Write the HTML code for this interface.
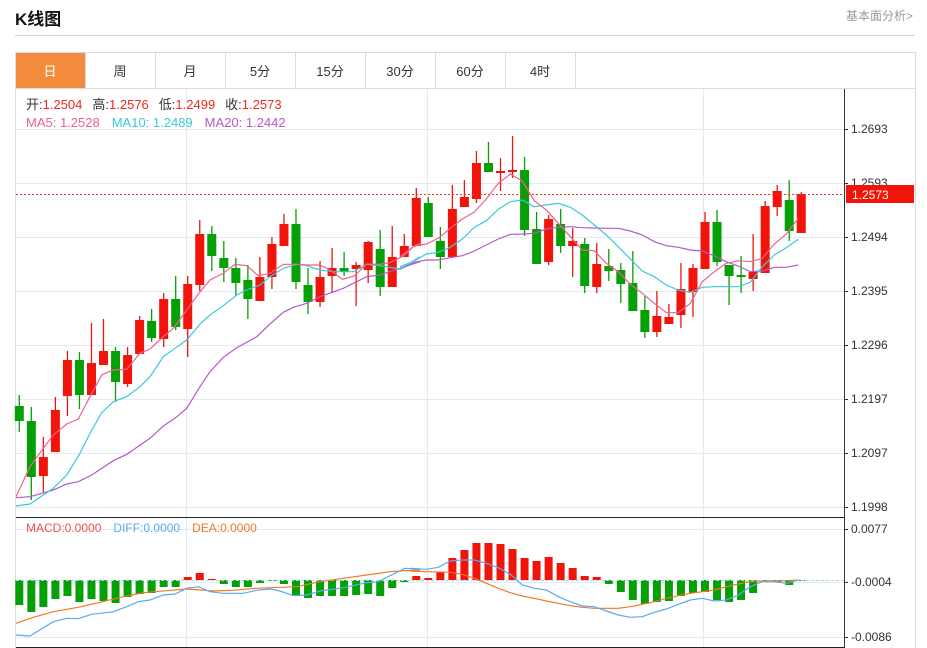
<!DOCTYPE html><html><head><meta charset="utf-8"><style>
body{margin:0;width:927px;height:648px;background:#fff;font-family:"Liberation Sans","Noto Sans CJK SC",sans-serif;position:relative;overflow:hidden}
.t{position:absolute;white-space:nowrap}
</style></head><body>
<div class="t" style="left:15px;top:5px;font-size:17px;font-weight:bold;color:#111">K线图</div>
<div class="t" style="right:14px;top:7px;font-size:12px;color:#999">基本面分析&gt;</div>
<div style="position:absolute;left:15px;top:35px;width:900px;height:1px;background:#d6d6d6"></div>
<svg id="s" width="927" height="648" style="position:absolute;left:0;top:0" font-family="Liberation Sans, Noto Sans CJK SC, sans-serif"></svg>
<script>
var s='';
function L(x1,y1,x2,y2,c,w,d){s+='<line x1="'+x1+'" y1="'+y1+'" x2="'+x2+'" y2="'+y2+'" stroke="'+c+'" stroke-width="'+(w||1)+'"'+(d?' stroke-dasharray="'+d+'"':'')+'/>';}
function R(x,y,w,h,c){s+='<rect x="'+x+'" y="'+y+'" width="'+w+'" height="'+h+'" fill="'+c+'"/>';}
function T(x,y,t,c,sz,a){s+='<text x="'+x+'" y="'+y+'" fill="'+c+'" font-size="'+(sz||12)+'"'+(a?' text-anchor="'+a+'"':'')+'>'+t+'</text>';}
// frame
s+='<rect x="15.5" y="52.5" width="900" height="600" fill="none" stroke="#dcdcdc"/>';
L(15,88.5,915,88.5,'#dcdcdc');
var tabs=['日','周','月','5分','15分','30分','60分','4时'];
R(16,53,70,35,'#F28C3C');
for(var i=0;i<8;i++){var x=15+i*70;L(x+70.5,53,x+70.5,88,'#dcdcdc');T(x+35,76,tabs[i],i?'#333':'#fff',13,'middle');}
// grid
[129,183,237,291,345,399,453,507].forEach(function(y){L(16,y+.5,844,y+.5,'#e3eaf0');});
[186,427,703].forEach(function(x){L(x+.5,89,x+.5,647,'#e3eaf0');});
[529,582,637].forEach(function(y){L(16,y+.5,844,y+.5,'#e3eaf0');});
L(844.5,89,844.5,648,'#333');L(16,517.5,844,517.5,'#222');L(16,647.5,844,647.5,'#222');
var lab=['1.2693','1.2593','1.2494','1.2395','1.2296','1.2197','1.2097','1.1998'];
[129,183,237,291,345,399,453,507].forEach(function(y,i){L(844,y+.5,848,y+.5,'#333');T(851,y+4,lab[i],'#333',12);});
[[529,'0.0077'],[582,'-0.0004'],[637,'-0.0086']].forEach(function(a){L(844,a[0]+.5,848,a[0]+.5,'#333');T(851,a[0]+4,a[1],'#333',12);});
// info
s+='<text x="26" y="109" font-size="13"><tspan fill="#333">开:</tspan><tspan fill="#f0281e">1.2504</tspan><tspan fill="#333" dx="10">高:</tspan><tspan fill="#f0281e">1.2576</tspan><tspan fill="#333" dx="10">低:</tspan><tspan fill="#f0281e">1.2499</tspan><tspan fill="#333" dx="10">收:</tspan><tspan fill="#f0281e">1.2573</tspan></text>';
s+='<text x="26" y="127" font-size="13"><tspan fill="#f06090">MA5: 1.2528</tspan><tspan fill="#3cc8dc" dx="12">MA10: 1.2489</tspan><tspan fill="#b45ac8" dx="12">MA20: 1.2442</tspan></text>';
s+='<text x="26" y="532" font-size="12"><tspan fill="#f0504a">MACD:0.0000</tspan><tspan fill="#5aaaf0" dx="12">DIFF:0.0000</tspan><tspan fill="#f07828" dx="12">DEA:0.0000</tspan></text>';
// candles: [type, bodyTop, bodyBot, wickTop, wickBot]
var C=[['g',406,421,395,432],['g',421,477,407,500],['r',457,476,437,492],['r',410,452,397,452],['r',360,396,351,416],['g',360,395,352,409],['r',363,395,323,395],['r',351,365,319,365],['g',351,382,347,402],['r',355,384,347,387],['r',320,354,316,354],['g',321,338,309,342],['r',299,339,293,347],['g',299,327,276,330],['r',284,329,276,357],['r',234,285,220,291],['g',234,256,226,271],['g',258,268,241,282],['g',268,283,258,295],['g',280,299,265,319],['r',277,301,257,301],['r',244,277,237,289],['r',224,246,214,246],['g',224,282,209,289],['g',285,302,268,314],['r',277,302,261,307],['r',268,276,248,293],['g',268,272,252,276],['r',265,269,262,306],['r',242,270,241,283],['g',249,287,230,296],['r',257,287,226,287],['r',246,257,234,257],['r',198,246,188,246],
['g',203,237,197,237],['g',241,257,227,269],['r',209,257,185,257],['r',197,207,180,207],['r',163,199,151,203],['g',163,172,142,172],['r',171,173,158,191],['r',170,172,136,178],['g',170,230,157,236],['g',229,264,212,264],['r',219,262,215,265],['g',224,246,209,253],['r',241,246,228,277],['g',244,286,238,293],['r',264,287,243,293],['g',266,271,249,281],['g',270,284,263,303],['g',283,311,251,311],['g',310,332,296,338],['r',316,332,291,337],['r',317,324,304,324],['r',289,315,263,328],['r',268,292,264,317],['r',222,269,212,269],['g',222,262,210,266],['g',265,276,265,305],['g',275,277,256,293],['r',272,279,234,291],['r',206,273,201,273],['r',191,207,185,216],['g',200,231,180,241],['r',194,233,192,233]];
function cx(i){return 19.3+i*12.03;}
C.forEach(function(c,i){var x=cx(i),col=c[0]=='r'?'#f0140a':'#05a005';L(x,c[3],x,c[4],col,1.3);R(x-4.5,c[1],9,Math.max(c[2]-c[1],2),col);});
L(16,194.5,844,194.5,'#f03030',1,'2,2');
R(846,185,68,18,'#f0140a');T(852,199,'1.2573','#fff',12);
function P(pts,ox,sc,oy,col,w){var d='';pts.forEach(function(p,i){d+=(i?'L':'M')+(ox+p[0]/3).toFixed(1)+' '+(oy+p[1]/3).toFixed(1);});s+='<path d="'+d+'" fill="none" stroke="'+col+'" stroke-width="'+(w||1.2)+'"/>';}
P([[48,1133],[90,1130],[160,1110],[200,1092],[235,1085],[275,1065],[340,1022],[380,1003],[450,955],[490,918],[525,895],[560,865],[600,800],[630,755],[670,712],[710,683],[770,650],[810,612],[850,577],[880,562],[920,550],[960,530],[1030,505],[1100,470],[1140,465],[1200,445],[1260,425]],0,3,120,'#b45ac8');
P([[0,448],[43,427],[79,420],[115,420],[151,413],[187,407],[223,393],[259,375],[295,357],[331,343],[367,342],[403,340],[439,327],[475,322],[511,320],[547,323],[583,324],[619,325],[655,325],[691,333],[727,345],[763,365],[799,377],[835,382],[871,390],[907,393],[943,408],[979,425],[1015,438],[1051,455],[1087,453],[1123,442],[1159,442],[1195,435]],400,3,120,'#b45ac8');
P([[48,1158],[90,1152],[160,1105],[200,1065],[240,1000],[270,940],[305,878],[340,845],[380,830],[420,800],[450,770],[490,710],[525,685],[560,660],[600,612],[630,585],[670,557],[710,525],[740,510],[780,495],[810,470],[850,445],[890,433],[920,437],[960,450],[1000,455],[1060,455],[1100,433],[1140,437],[1200,447],[1260,410]],0,3,120,'#3cc8dc');
P([[0,440],[43,423],[79,402],[115,397],[151,382],[187,357],[223,322],[259,302],[295,268],[331,245],[367,240],[403,260],[439,255],[475,250],[511,262],[547,285],[583,315],[619,345],[655,380],[691,417],[727,453],[763,470],[799,495],[835,510],[871,517],[907,502],[943,500],[979,500],[1015,500],[1051,487],[1087,440],[1123,405],[1159,383],[1195,358]],400,3,120,'#3cc8dc');
P([[48,1130],[90,1040],[130,985],[160,945],[200,912],[235,897],[270,830],[305,765],[340,750],[380,748],[420,700],[450,687],[490,650],[520,625],[560,570],[595,522],[630,480],[670,460],[705,433],[740,437],[775,467],[810,460],[850,433],[890,433],[920,435],[960,435],[990,450],[1027,478],[1063,468],[1100,432],[1140,433],[1170,428],[1210,408],[1240,380],[1260,370]],0,3,120,'#f06090');
P([[0,410],[43,378],[79,372],[115,355],[151,325],[187,297],[223,276],[259,237],[295,190],[331,162],[367,183],[403,242],[439,270],[475,310],[511,350],[547,390],[583,392],[619,430],[655,455],[691,493],[727,520],[763,550],[799,578],[835,578],[871,550],[907,485],[943,455],[979,430],[1015,422],[1051,425],[1087,415],[1123,372],[1159,342],[1195,295]],400,3,120,'#f06090');
// MACD histogram
var H=[605,612,607,599,596,602,599,601,603,597,594,593,587,587,577,573,579,584,587,587,583,581,584,595,598,596,596,596,595,594,596,588,582,576,578,572,558,550,543,543,544,549,558,561,557,563,568,576,577,584,592,600,604,602,601,596,593,592,600,602,600,593,582,582,585,581];
var Z=580;
H.forEach(function(v,i){var x=cx(i);if(v<Z)R(x-4,v,8,Z-v,'#f0140a');else R(x-4,Z,8,Math.max(v-Z,1),'#05a005');});
L(16,580.5,844,580.5,'#a8d8ea',1,'3,2');
P([[48,325],[100,307],[160,290],[235,277],[300,262],[370,245],[430,233],[500,227],[560,222],[640,228],[700,226],[770,220],[840,217],[890,215],[960,200],[1030,190],[1100,180],[1170,170],[1215,167],[1260,165]],0,3,515,'#f07828');
P([[0,168],[50,170],[121,172],[157,178],[193,190],[229,205],[265,220],[301,233],[337,243],[373,250],[409,258],[445,265],[481,272],[517,277],[553,280],[589,280],[625,280],[661,275],[697,268],[733,260],[769,250],[805,242],[841,235],[877,230],[913,225],[949,215],[985,207],[1021,200],[1057,198],[1093,198],[1129,197],[1165,195]],410,3,515,'#f07828');
P([[48,360],[90,363],[160,320],[200,310],[235,311],[275,298],[340,290],[380,275],[415,260],[450,255],[490,240],[525,237],[560,220],[595,215],[630,230],[670,235],[730,235],[770,226],[810,222],[840,228],[880,242],[920,240],[960,228],[1030,218],[1100,203],[1135,200],[1170,182],[1215,160],[1260,163]],0,3,515,'#5aaaf0');
P([[0,160],[50,163],[85,157],[121,138],[157,135],[193,135],[229,145],[265,158],[301,178],[337,210],[373,220],[409,225],[445,245],[481,260],[517,273],[553,275],[589,288],[625,300],[661,307],[697,305],[733,292],[769,282],[805,268],[841,255],[877,250],[913,258],[949,255],[985,240],[1021,215],[1057,200],[1093,200],[1129,205],[1165,195]],410,3,515,'#5aaaf0');
document.getElementById('s').innerHTML=s;
</script>
</body></html>
